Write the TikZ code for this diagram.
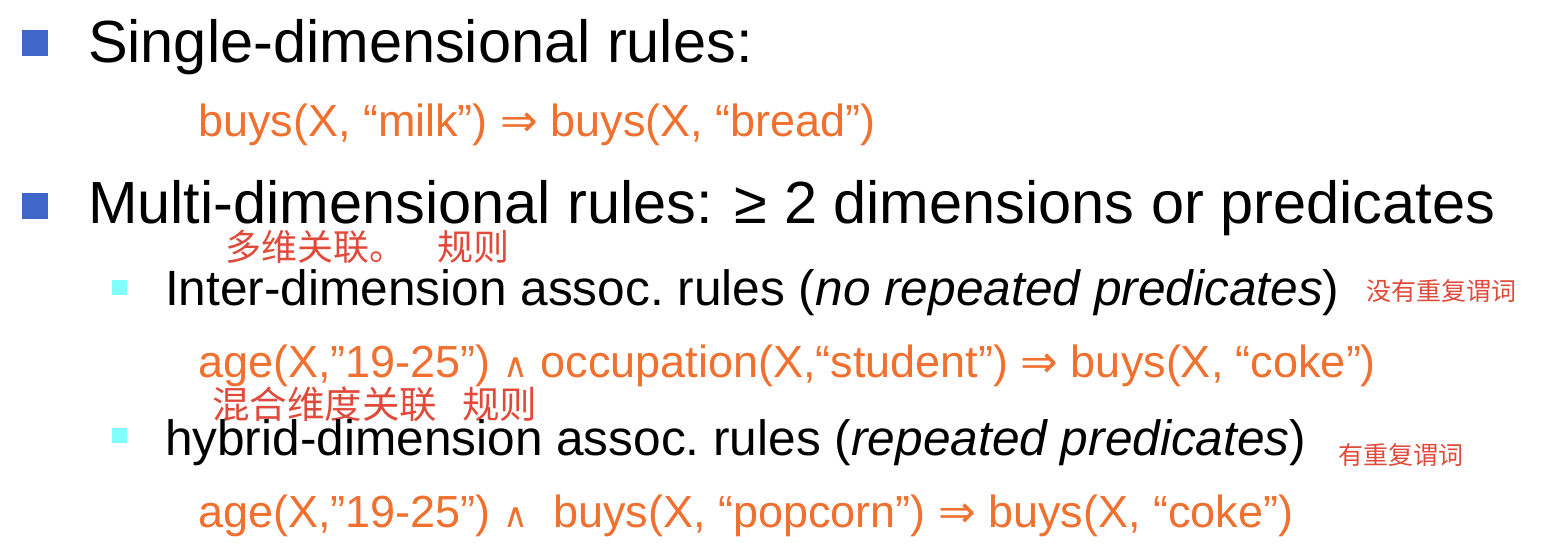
\documentclass[tikz,border=0pt]{standalone}
\usepackage{fontspec}
\setmainfont{Liberation Sans}
\newfontfamily\cjk{Noto Sans CJK SC}
\newfontfamily\symfnt{DejaVu Sans}
\definecolor{bulletblue}{HTML}{3F66C8}
\definecolor{bulletcyan}{HTML}{80FFFF}
\definecolor{ruleorange}{HTML}{F07030}
\definecolor{notered}{HTML}{E04A3A}
\newcommand{\impl}{{\symfnt ⇒}}
\newcommand{\conj}{{\symfnt\fontsize{34}{34}\selectfont ∧}}

\begin{document}
\begin{tikzpicture}[x=1pt,y=-1pt,
  every node/.style={inner sep=0pt,outer sep=0pt},
  txt/.style={anchor=base west},
  headline/.style={txt,font=\fontsize{59.5}{62}\selectfont},
  subline/.style={txt,font=\fontsize{49.6}{52}\selectfont},
  fmla/.style={txt,text=ruleorange,font=\fontsize{45}{48}\selectfont},
  cnnote/.style={anchor=west,text=notered,font=\cjk\fontsize{#1}{#1}\selectfont},
  bigsq/.style={fill=bulletblue,minimum size=26pt},
  smallsq/.style={fill=bulletcyan,minimum size=15pt}]
\useasboundingbox (0,0) rectangle (1556,558);
\node[bigsq] (sq1) at (35,43) {};
\node[headline] (single) at (88,62) {Single-dimensional rules:};
\node[fmla] (milk) at (198,136) {buys(X, “milk”) \impl{} buys(X, “bread”)};
\node[bigsq] (sq2) at (35,206) {};
\node[headline] (multi) at (88,223) {Multi-dimensional rules: ≥ 2 dimensions or predicates};
\node[cnnote=36] (multinote) at (225,247) {多维关联。 \hspace{24pt}规则};
\node[smallsq] (sq3) at (119.5,287.5) {};
\node[subline] (inter) at (165,305) {Inter-dimension assoc.\ rules (\textit{no repeated predicates})};
\node[cnnote=25] (internote) at (1366,291) {没有重复谓词};
\node[fmla] (student) at (198,377) {age(X,”19-25”) \conj{} occupation(X,“student”) \impl{} buys(X, “coke”)};
\node[cnnote=37.5] (hybridnote) at (212,404) {混合维度关联 \hspace{17pt}规则};
\node[smallsq] (sq4) at (119.5,435) {};
\node[subline] (hybrid) at (165,455) {hybrid-dimension assoc.\ rules (\textit{repeated predicates})};
\node[cnnote=25] (hybridnote2) at (1338,455) {有重复谓词};
\node[fmla] (popcorn) at (198,527) {age(X,”19-25”) \conj\ \ buys(X, “popcorn”) \impl{} buys(X, “coke”)};
\end{tikzpicture}
\end{document}
